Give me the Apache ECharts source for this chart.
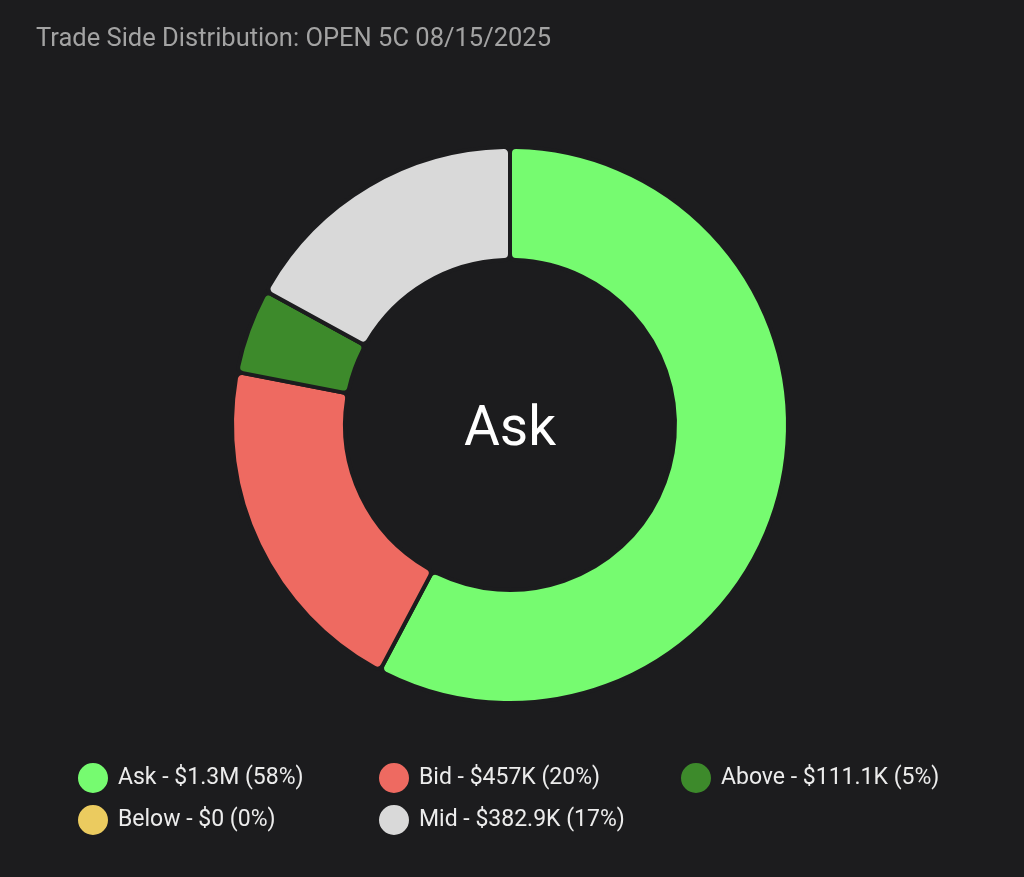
<!DOCTYPE html>
<html><head><meta charset="utf-8">
<script src="https://cdn.jsdelivr.net/npm/echarts@6/dist/echarts.min.js"></script>
<style>html,body{margin:0;padding:0;background:#1c1c1e;}#c{width:1024px;height:877px;}</style>
</head><body><div id="c"></div>
<script>
const categories = ["Ask", "Bid", "Above", "Below", "Mid"];
const values = [1300000, 457000, 111100, 0, 382900];
const amountLabels = ["$1.3M", "$457K", "$111.1K", "$0", "$382.9K"];
const percentLabels = ["58%", "20%", "5%", "0%", "17%"];
const colors = ["#76fb70", "#ee6a61", "#3d8a2b", "#ebcb5f", "#d9d9d9"];
const legendColumns = [["Ask", "Below"], ["Bid", "Mid"], ["Above"]];
const FONT = "Roboto, 'Noto Sans', sans-serif";
const chart = echarts.init(document.getElementById('c'));
const colLeft = [76, 377, 679];
const legends = legendColumns.map((col, k) => ({
  orient: 'vertical', left: colLeft[k], top: 761, padding: 0,
  itemWidth: 32, itemHeight: 32, itemGap: 8, icon: 'circle',
  data: col,
  formatter: function(name){ const i = categories.indexOf(name); return name + ' - ' + amountLabels[i] + ' (' + percentLabels[i] + ')'; },
  textStyle: {color: '#ececec', fontSize: 23, fontFamily: FONT, padding: [0,0,0,4]}
}));
chart.setOption({
  backgroundColor: '#1c1c1e',
  animation: false,
  title: [
    {text: 'Trade Side Distribution: OPEN 5C 08/15/2025', left: 31, top: 22,
     textStyle: {color: '#a3a3a3', fontSize: 25.5, fontWeight: 'normal', fontFamily: FONT}},
    {text: categories[0], left: 505, top: 426, textAlign: 'center', textVerticalAlign: 'middle',
     textStyle: {color: '#ffffff', fontSize: 55, fontWeight: 'normal', fontFamily: FONT}}
  ],
  legend: legends,
  series: [{
    type: 'pie', center: [510, 425], radius: [165, 278], startAngle: 90, clockwise: true,
    label: {show: false}, labelLine: {show: false}, silent: true,
    itemStyle: {borderColor: '#1c1c1e', borderWidth: 4, borderRadius: 6},
    data: categories.map((c, i) => ({name: c, value: values[i], itemStyle: {color: colors[i]}}))
  }]
});
</script></body></html>
